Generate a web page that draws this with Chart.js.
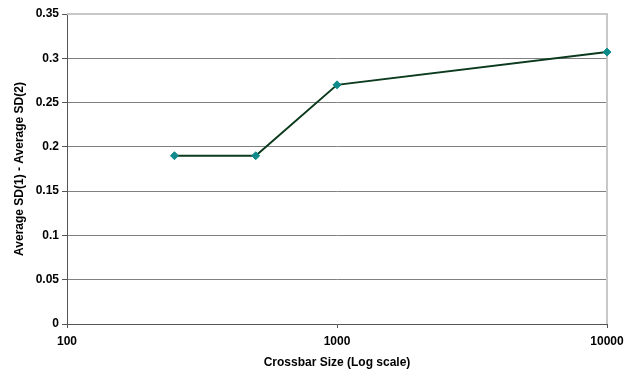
<!DOCTYPE html>
<html>
<head>
<meta charset="utf-8">
<script src="https://cdn.jsdelivr.net/npm/chart.js@4"></script>
<style>
  html, body { margin: 0; padding: 0; background: #ffffff; }
  #wrap { width: 636px; height: 374px; }
</style>
</head>
<body>
<div id="wrap"><canvas id="chart" width="636" height="374"></canvas></div>
<script>
// Crossbar sizes (x, log scale) and the measured SD difference (y)
const crossbarSizes = [250, 500, 1000, 10000];
const sdDifference = [0.19, 0.19, 0.27, 0.307];
const xTickValues = [100, 1000, 10000];

const FONT = { family: '"Liberation Sans", Arial, sans-serif', size: 12, weight: 'bold' };
const AXIS_DARK = '#555555';
const GRID = '#808080';
const FRAME = '#c8c8c8';

// Light grey frame along the top and right side of the plot area
const plotFrame = {
  id: 'plotFrame',
  beforeDatasetsDraw(chart) {
    const { ctx, chartArea: a } = chart;
    ctx.save();
    ctx.strokeStyle = FRAME;
    ctx.lineWidth = 2;
    ctx.beginPath();
    ctx.moveTo(a.left, a.top);
    ctx.lineTo(a.right, a.top);
    ctx.lineTo(a.right, a.bottom);
    ctx.stroke();
    ctx.restore();
  }
};

new Chart(document.getElementById('chart'), {
  type: 'line',
  data: {
    datasets: [{
      data: crossbarSizes.map((x, i) => ({ x: x, y: sdDifference[i] })),
      borderColor: '#0b3a1c',
      borderWidth: 2,
      pointStyle: 'rectRot',
      pointRadius: 4,
      pointHoverRadius: 4,
      pointBackgroundColor: '#0f8a8a',
      pointBorderColor: '#0f8a8a',
      pointBorderWidth: 1,
      tension: 0,
      clip: false
    }]
  },
  plugins: [plotFrame],
  options: {
    responsive: false,
    animation: false,
    events: [],
    layout: { padding: { left: 8, right: 29, top: 14, bottom: 4 } },
    plugins: {
      legend: { display: false },
      tooltip: { enabled: false }
    },
    scales: {
      x: {
        type: 'logarithmic',
        min: 100,
        max: 10000,
        afterBuildTicks(scale) {
          scale.ticks = xTickValues.map(v => ({ value: v }));
        },
        afterFit(scale) { scale.height = 46; },
        ticks: {
          color: '#000000',
          font: FONT,
          padding: 6,
          maxRotation: 0,
          autoSkip: false,
          callback: v => String(v)
        },
        grid: {
          drawOnChartArea: false,
          drawTicks: true,
          tickLength: 4,
          tickColor: AXIS_DARK
        },
        border: { color: AXIS_DARK, width: 1 },
        title: {
          display: true,
          text: 'Crossbar Size (Log scale)',
          color: '#000000',
          font: FONT,
          padding: { top: 2, bottom: 0 }
        }
      },
      y: {
        min: 0,
        max: 0.35,
        afterFit(scale) { scale.width = 59; },
        ticks: {
          stepSize: 0.05,
          color: '#000000',
          font: FONT,
          padding: 3,
          callback: v => String(Number(v.toFixed(2)))
        },
        grid: {
          color: ctx => (ctx.tick && Math.abs(ctx.tick.value - 0.35) < 1e-9) ? 'rgba(0,0,0,0)' : GRID,
          lineWidth: 1,
          drawTicks: true,
          tickLength: 5,
          tickColor: AXIS_DARK
        },
        border: { color: AXIS_DARK, width: 1 },
        title: {
          display: true,
          text: 'Average SD(1) - Average SD(2)',
          color: '#000000',
          font: FONT,
          padding: { top: 4, bottom: 0 }
        }
      }
    }
  }
});
</script>
</body>
</html>
